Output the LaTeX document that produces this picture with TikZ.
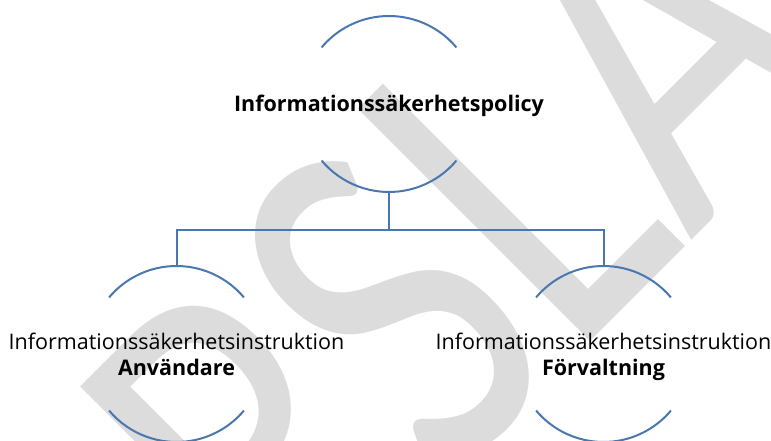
\documentclass[tikz,border=0pt]{standalone}
\usepackage{fontspec}
\setmainfont{Open Sans}
\newfontfamily\markfont{Carlito}
\usepackage{graphicx}
\definecolor{treeblue}{HTML}{4A77B0}
\definecolor{markgray}{HTML}{DCDCDC}
\begin{document}
\begin{tikzpicture}[x=1pt,y=1pt,
    ring/.style={circle,minimum size=176pt,inner sep=0pt,outer sep=0pt},
    ringline/.style={treeblue,line width=2pt},
    kindtext/.style={anchor=base,inner sep=0pt,font=\fontsize{21.5}{26}\selectfont},
    nametext/.style={anchor=base,inner sep=0pt,font=\fontsize{21.5}{26}\selectfont\bfseries}]
    \useasboundingbox (0,0) rectangle (771,441);
    \clip (0,0) rectangle (771,441);
    \node[rotate=45,anchor=base west,inner sep=0pt,text=markgray,
      font=\markfont\fontsize{512}{512}\selectfont] (mark) at (-22,-513) {\scalebox{0.78}[1]{FÖRSLAG}};
    \node[ring] (pol) at (389,337) {};
    \node[ring] (anv) at (176.5,87) {};
    \node[ring] (forv) at (603.5,87) {};
    \foreach \c in {pol,anv,forv} {
      \draw[ringline] (\c.40) arc[start angle=40,end angle=140,radius=88pt];
      \draw[ringline] (\c.220) arc[start angle=220,end angle=320,radius=88pt];
    }
    \coordinate (split) at (389,211);
    \draw[ringline] (pol.south) -- (split);
    \draw[ringline] (anv.north) |- (split) -| (forv.north);
    \node[nametext] (poltext) at (389,329) {Informationssäkerhetspolicy};
    \node[kindtext] (anvkind) at (176.5,91) {Informationssäkerhetsinstruktion};
    \node[nametext] (anvname) at (176.5,65) {Användare};
    \node[kindtext] (forvkind) at (603.5,91) {Informationssäkerhetsinstruktion};
    \node[nametext] (forvname) at (603.5,65) {Förvaltning};
  \end{tikzpicture}
\end{document}
